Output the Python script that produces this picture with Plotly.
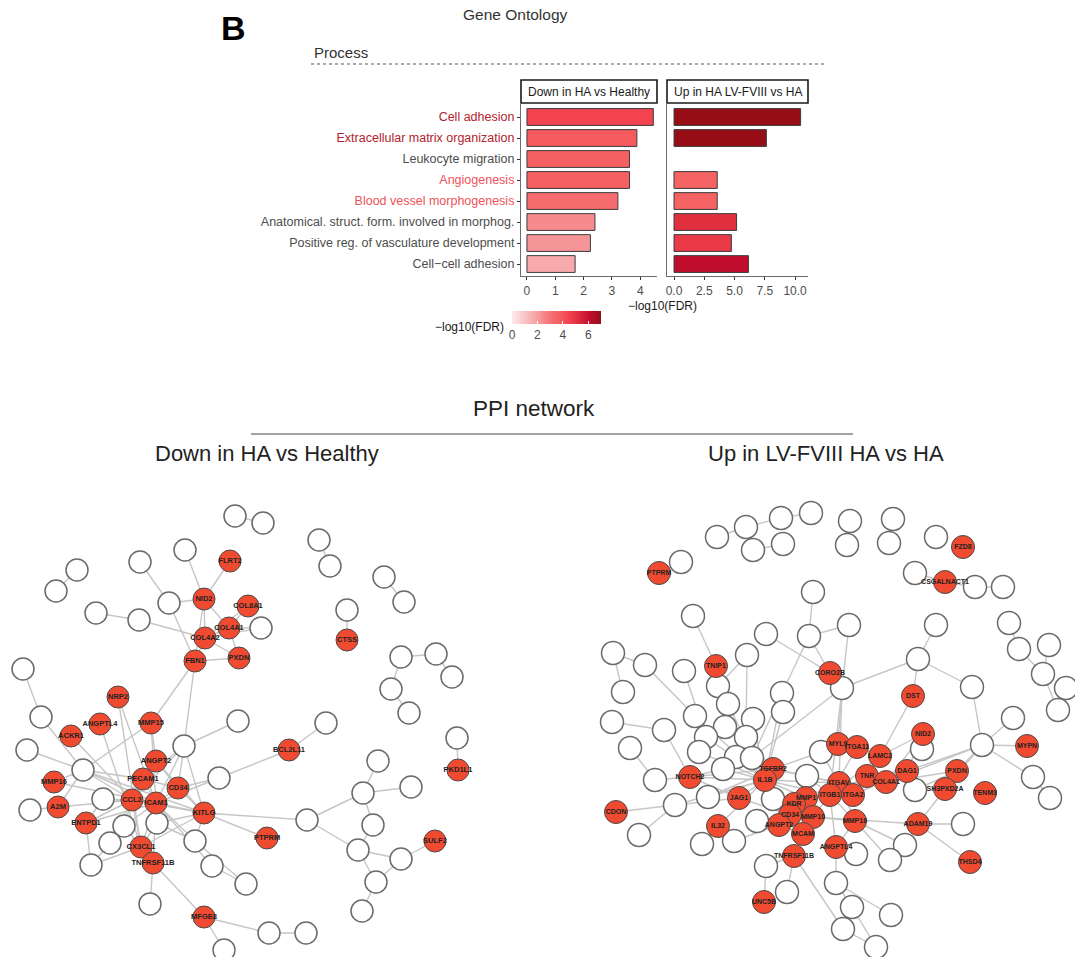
import plotly.graph_objects as go

W, H = 1075, 957
FONT = "Liberation Sans, Arial, sans-serif"

# ---------------- Gene Ontology enrichment (-log10 FDR) ----------------
go_terms = [
    "Cell adhesion",
    "Extracellular matrix organization",
    "Leukocyte migration",
    "Angiogenesis",
    "Blood vessel morphogenesis",
    "Anatomical. struct. form. involved in morphog.",
    "Positive reg. of vasculature development",
    "Cell\u2212cell adhesion",
]
term_colors = ["#b3222e", "#b3222e", "#4d4d4d", "#f0525a", "#f0525a",
               "#4d4d4d", "#4d4d4d", "#4d4d4d"]
down_ha_vs_healthy = [4.46, 3.88, 3.62, 3.62, 3.21, 2.40, 2.24, 1.70]
up_lv_vs_ha = [10.46, 7.63, None, 3.57, 3.57, 5.17, 4.74, 6.15]
panel_titles = ["Down in HA vs Healthy", "Up in HA LV-FVIII vs HA"]
left_ticks = [0, 1, 2, 3, 4]
right_ticks = [0, 2.5, 5, 7.5, 10]
right_ticktext = ["0.0", "2.5", "5.0", "7.5", "10.0"]
legend_ticks = [0, 2, 4, 6]

fdr_scale = [
    [0.000, "#fcebec"], [0.243, "#f7a9ab"], [0.320, "#f69598"],
    [0.343, "#f78a8c"], [0.459, "#f66b6d"], [0.517, "#f56163"],
    [0.554, "#f45a5e"], [0.637, "#f2434f"], [0.677, "#ea3a47"],
    [0.739, "#e0303f"], [0.879, "#c00d2e"], [1.000, "#970d16"],
]
FDR_MAX = 7.0

# ---------------- PPI networks: node layout and interactions ----------------
# Unlabelled (non-hit) proteins carry ids starting with "_"
left_node = ["_1", "_2", "_3", "_4", "_5", "_6", "_7", "FLRT2", "_8", "_9", "_10", "_11",
             "NID2", "COL8A1", "_12", "_13", "COL4A1", "_14", "COL4A2", "FBN1", "PXDN",
             "_15", "CTSS", "_16", "_17", "_18", "_19", "_20", "_21", "_22", "NRP2",
             "ANGPTL4", "MMP15", "_23", "_24", "ACKR1", "_25", "_26", "_27", "_28",
             "ANGPT2", "BCL2L11", "_29", "PKD1L1", "MMP16", "PECAM1", "CD34", "_30",
             "_31", "_32", "_33", "CCL2", "ICAM1", "KITLG", "A2M", "_34", "ENTPD1",
             "_35", "_36", "_37", "_38", "PTPRM", "_39", "_40", "CX3CL1", "_41",
             "SULF2", "TNFRSF11B", "_42", "_43", "_44", "_45", "_46", "_47", "_48",
             "MFGE8", "_49", "_50", "_51"]
left_x = [235, 263, 319, 330, 384, 404, 185, 230, 140, 77, 56, 169, 204, 248, 96, 139,
          229, 261, 205, 195, 239, 347, 347, 401, 436, 452, 391, 409, 23, 41, 118, 100,
          151, 238, 326, 71, 457, 27, 184, 83, 156, 289, 378, 458, 54, 143, 178, 219,
          363, 411, 103, 132, 156, 204, 58, 30, 86, 124, 157, 307, 373, 267, 195, 110,
          141, 358, 435, 153, 91, 212, 401, 376, 246, 150, 362, 204, 269, 306, 224]
left_y = [516, 523, 540, 566, 577, 602, 550, 561, 562, 570, 591, 603, 599, 606, 613, 620,
          628, 628, 638, 661, 658, 610, 640, 657, 654, 677, 689, 713, 669, 717, 697, 724,
          723, 721, 723, 736, 738, 750, 746, 770, 761, 750, 761, 770, 782, 779, 788, 778,
          793, 787, 799, 800, 803, 813, 807, 810, 823, 826, 823, 820, 825, 838, 841, 843,
          847, 850, 841, 863, 865, 866, 859, 882, 884, 904, 911, 917, 933, 933, 950]
left_edges = [
    ("_1", "_2"), ("_3", "_4"), ("_5", "_6"), ("_9", "_10"), ("_12", "_13"),
    ("_13", "COL4A2"), ("_8", "_11"), ("_11", "NID2"), ("_11", "FBN1"), ("_7", "NID2"),
    ("FLRT2", "NID2"), ("NID2", "COL4A2"), ("NID2", "COL4A1"), ("NID2", "FBN1"),
    ("COL8A1", "COL4A1"), ("COL8A1", "COL4A2"), ("COL4A1", "_14"), ("COL4A2", "_14"),
    ("COL4A1", "COL4A2"), ("COL4A1", "PXDN"), ("COL4A2", "PXDN"), ("FBN1", "PXDN"),
    ("COL4A2", "FBN1"), ("CTSS", "_15"), ("_16", "_17"), ("_17", "_18"), ("_16", "_19"),
    ("_19", "_20"), ("_21", "_22"), ("FBN1", "MMP15"), ("FBN1", "_27"), ("_23", "_27"),
    ("_22", "_28"), ("_26", "_28"), ("ANGPTL4", "CX3CL1"), ("NRP2", "CX3CL1"),
    ("NRP2", "ICAM1"), ("MMP15", "ICAM1"), ("MMP15", "ANGPT2"), ("_28", "MMP15"),
    ("_27", "CD34"), ("_27", "ICAM1"), ("_27", "KITLG"), ("_27", "PECAM1"), ("_27", "CCL2"),
    ("_28", "MMP16"), ("_28", "A2M"), ("_28", "CCL2"), ("_28", "ICAM1"), ("_28", "PECAM1"),
    ("_28", "KITLG"), ("BCL2L11", "_24"), ("BCL2L11", "_30"), ("_30", "CD34"),
    ("_30", "ICAM1"), ("KITLG", "_37"), ("KITLG", "PTPRM"), ("_37", "_31"), ("_37", "_41"),
    ("_31", "_29"), ("_31", "_32"), ("_31", "_38"), ("_38", "_41"), ("_41", "_44"),
    ("_41", "_45"), ("_44", "SULF2"), ("_44", "_45"), ("_45", "_48"), ("PKD1L1", "_25"),
    ("TNFRSF11B", "MFGE8"), ("TNFRSF11B", "_47"), ("MFGE8", "_49"), ("_49", "_50"),
    ("MFGE8", "_51"), ("_42", "ENTPD1"), ("_42", "CX3CL1"), ("_39", "_46"),
    ("_43", "ICAM1"), ("_43", "_46"), ("CCL2", "ICAM1"), ("CCL2", "PECAM1"),
    ("CCL2", "CX3CL1"), ("ICAM1", "PECAM1"), ("ICAM1", "CD34"), ("ICAM1", "KITLG"),
    ("ICAM1", "CX3CL1"), ("ICAM1", "TNFRSF11B"), ("PECAM1", "CD34"), ("PECAM1", "ANGPT2"),
    ("ANGPT2", "CD34"), ("ANGPT2", "KITLG"), ("CD34", "KITLG"), ("KITLG", "CX3CL1"),
    ("CCL2", "KITLG"), ("_33", "CCL2"), ("_33", "ICAM1"), ("_33", "ENTPD1"),
    ("_35", "CCL2"), ("_35", "ICAM1"), ("_36", "ICAM1"), ("_36", "KITLG"),
    ("_36", "CX3CL1"), ("_35", "CX3CL1"), ("A2M", "CCL2"), ("MMP16", "ICAM1"),
    ("ENTPD1", "CCL2"), ("ENTPD1", "ICAM1"), ("_40", "CCL2"), ("_40", "_42"),
    ("_34", "A2M"), ("_39", "ICAM1"), ("_39", "KITLG"), ("CX3CL1", "TNFRSF11B"),
    ("ACKR1", "CCL2"), ("_36", "_39"),
]

right_node = ["_1", "_2", "_3", "_4", "_5", "_6", "_7", "_8", "_9", "_10", "_11", "FZD8",
              "_12", "PTPRM", "_13", "CSGALNACT1", "_14", "_15", "_16", "_17", "_18",
              "_19", "_20", "_21", "_22", "_23", "_24", "_25", "_26", "_27", "_28", "_29",
              "_30", "DST", "CORO2B", "_31", "_32", "_33", "_34", "TNIP1", "_35", "_36",
              "_37", "_38", "_39", "_40", "_41", "_42", "_43", "_44", "NID2", "_45", "_46",
              "_47", "_48", "_49", "_50", "_51", "_52", "_53", "MYL9", "ITGA11", "LAMC2",
              "_54", "_55", "MYPN", "_56", "NOTCH2", "TGFBR2", "IL1B", "_57", "TNR",
              "COL4A1", "DAG1", "PXDN", "ITGAV", "_58", "SH3PXD2A", "TENM3", "_59", "_60",
              "_61", "_62", "JAG1", "_63", "ITGB1", "ITGA2", "MMP1", "KDR", "CD34",
              "MMP10", "CDON", "MMP16", "ADAM19", "_64", "ANGPT2", "_65", "IL32", "_66",
              "MCAM", "_67", "_68", "_69", "_70", "ANGPTL4", "_71", "TNFRSF11B", "THSD4",
              "_72", "_73", "_74", "UNC5B", "_75", "_76", "_77", "_78"]
right_x = [811, 781, 746, 717, 753, 783, 850, 847, 893, 889, 936, 963, 681, 659, 915, 945,
           975, 1003, 813, 693, 849, 809, 766, 936, 1009, 1019, 1049, 1043, 1066, 1058,
           1013, 918, 972, 913, 830, 842, 613, 645, 684, 716, 747, 623, 718, 782, 728, 783,
           695, 753, 612, 664, 923, 725, 706, 746, 630, 699, 736, 752, 723, 821, 838, 857,
           880, 922, 982, 1027, 655, 690, 773, 765, 807, 867, 886, 907, 957, 839, 1033, 945,
           985, 915, 1050, 675, 708, 739, 773, 830, 853, 806, 794, 790, 813, 616, 855, 918,
           963, 779, 757, 718, 639, 803, 734, 702, 905, 890, 836, 856, 794, 970, 766, 836,
           787, 764, 852, 891, 843, 876]
right_y = [513, 518, 527, 537, 550, 544, 521, 545, 519, 543, 537, 547, 562, 573, 573, 582,
           587, 587, 592, 616, 625, 636, 634, 625, 623, 649, 645, 674, 688, 710, 718, 659,
           687, 696, 673, 688, 653, 665, 671, 666, 655, 692, 686, 693, 704, 712, 716, 719,
           722, 730, 734, 727, 737, 737, 748, 752, 757, 758, 769, 752, 744, 747, 756, 749,
           745, 746, 780, 777, 769, 780, 776, 776, 782, 771, 771, 783, 777, 789, 793, 790,
           798, 805, 797, 798, 799, 795, 795, 798, 804, 815, 817, 812, 821, 824, 824, 825,
           821, 826, 835, 834, 841, 844, 845, 860, 847, 854, 856, 862, 866, 883, 892, 902,
           907, 915, 929, 947]
right_edges = [
    ("_1", "_2"), ("_2", "_3"), ("_3", "_4"), ("_5", "_6"), ("PTPRM", "_12"),
    ("_13", "CSGALNACT1"), ("CSGALNACT1", "_14"), ("_14", "_15"),
    ("_16", "_19"), ("_19", "_18"), ("_19", "CORO2B"), ("_19", "_38"), ("_18", "_31"),
    ("_20", "CORO2B"), ("_21", "_29"), ("_29", "_31"), ("_29", "DST"), ("_29", "_30"),
    ("_30", "_55"), ("_28", "_55"), ("_22", "_23"), ("_24", "_25"), ("_23", "_25"),
    ("_25", "_27"), ("_55", "MYPN"), ("_55", "_58"), ("_58", "_60"), ("_55", "DAG1"),
    ("_55", "COL4A1"), ("_55", "PXDN"), ("_55", "SH3PXD2A"),
    ("_32", "_33"), ("_32", "_36"), ("_33", "_41"), ("_34", "_46"), ("TNIP1", "_17"),
    ("TNIP1", "_45"), ("TNIP1", "_37"), ("_35", "_47"), ("_35", "_37"),
    ("CORO2B", "_31"), ("_31", "ITGAV"), ("_31", "ITGB1"), ("_31", "_51"),
    ("_31", "MYL9"), ("DST", "LAMC2"), ("_38", "_51"), ("_38", "_40"),
    ("_43", "_44"), ("_48", "_56"), ("_44", "NOTCH2"), ("_56", "NOTCH2"),
    ("NOTCH2", "IL1B"), ("NOTCH2", "TGFBR2"), ("CDON", "_61"), ("_66", "_61"),
    ("_61", "JAG1"), ("_61", "IL1B"), ("UNC5B", "_72"), ("TNFRSF11B", "_74"),
    ("TNFRSF11B", "_77"), ("_73", "_75"), ("_73", "_76"), ("_75", "_78"), ("_77", "_78"),
    ("ANGPTL4", "_71"), ("ANGPTL4", "_73"), ("ITGB1", "ANGPTL4"),
    ("MMP16", "_69"), ("MMP16", "_70"), ("ADAM19", "_64"), ("ADAM19", "THSD4"),
    ("ADAM19", "SH3PXD2A"), ("ADAM19", "MMP10"),
    ("NID2", "LAMC2"), ("NID2", "COL4A1"), ("NID2", "_54"), ("NID2", "DAG1"),
    ("DAG1", "COL4A1"), ("DAG1", "TNR"), ("DAG1", "ITGA2"), ("COL4A1", "TNR"),
    ("COL4A1", "ITGB1"), ("COL4A1", "ITGAV"), ("LAMC2", "ITGA11"), ("LAMC2", "ITGB1"),
    ("LAMC2", "ITGA2"), ("MYL9", "ITGA11"), ("ITGA11", "ITGB1"), ("ITGAV", "ITGB1"),
    ("ITGB1", "ITGA2"), ("ITGAV", "_57"), ("TNR", "ITGB1"), ("PXDN", "COL4A1"),
    ("PXDN", "_59"), ("IL1B", "TGFBR2"), ("IL1B", "CD34"), ("IL1B", "KDR"),
    ("IL1B", "MMP1"), ("IL1B", "JAG1"), ("IL1B", "IL32"), ("IL1B", "_63"),
    ("IL1B", "_50"), ("IL1B", "_52"), ("TGFBR2", "_57"), ("TGFBR2", "ITGAV"),
    ("TGFBR2", "_51"), ("JAG1", "NOTCH2"), ("JAG1", "CD34"), ("KDR", "CD34"),
    ("KDR", "MMP1"), ("KDR", "ANGPT2"), ("KDR", "ITGB1"), ("MMP1", "MMP10"),
    ("MMP1", "ITGB1"), ("MMP10", "CD34"), ("MMP10", "MMP16"), ("MMP10", "ITGAV"),
    ("CD34", "MCAM"), ("CD34", "ANGPT2"), ("ANGPT2", "MCAM"), ("ANGPT2", "_65"),
    ("MCAM", "TNFRSF11B"), ("MMP16", "ITGB1"), ("MMP16", "ANGPTL4"), ("ITGAV", "MMP16"),
    ("IL32", "_67"), ("IL32", "_68"), ("_67", "ANGPT2"), ("_62", "IL1B"),
    ("_62", "TGFBR2"), ("_49", "IL1B"), ("_46", "IL1B"), ("_45", "TGFBR2"),
    ("_47", "TGFBR2"), ("_39", "IL1B"), ("_40", "IL1B"), ("_42", "IL1B"),
    ("_41", "IL1B"), ("_37", "_39"), ("_53", "ITGAV"), ("_53", "TGFBR2"),
    ("_57", "ITGB1"), ("_63", "CD34"), ("_52", "NOTCH2"), ("_50", "_51"),
    ("_65", "CD34"), ("IL1B", "ITGB1"), ("IL1B", "ITGAV"), ("_38", "IL1B"),
    ("TNFRSF11B", "_72"),
]

HIT_FILL = "#f04b30"


def px(x):
    return x / W


def py(y):
    return 1 - y / H


fig = go.Figure()

# ---- GO bars ----
rows = list(range(len(go_terms)))
fig.add_trace(go.Bar(
    x=down_ha_vs_healthy, y=rows, orientation="h", width=0.8,
    marker=dict(
        color=down_ha_vs_healthy, colorscale=fdr_scale, cmin=0, cmax=FDR_MAX,
        line=dict(color="#3d3d3d", width=1),
        showscale=True,
        colorbar=dict(
            orientation="h", x=px(512), xanchor="left", xref="paper",
            y=py(311), yanchor="top", yref="paper",
            len=89, lenmode="pixels", thickness=13, thicknessmode="pixels",
            xpad=0, ypad=0, outlinewidth=0,
            tickvals=legend_ticks, ticks="inside", ticklen=3, tickcolor="white",
            tickfont=dict(size=12, color="#4d4d4d", family=FONT),
        ),
    ),
    xaxis="x", yaxis="y", showlegend=False, hoverinfo="skip",
))

r_rows = [r for r, v in zip(rows, up_lv_vs_ha) if v is not None]
r_vals = [v for v in up_lv_vs_ha if v is not None]
fig.add_trace(go.Bar(
    x=r_vals, y=r_rows, orientation="h", width=0.8,
    marker=dict(color=r_vals, colorscale=fdr_scale, cmin=0, cmax=FDR_MAX,
                line=dict(color="#3d3d3d", width=1), showscale=False),
    xaxis="x2", yaxis="y2", showlegend=False, hoverinfo="skip",
))


# ---- networks ----
def add_network(names, xs, ys, edges, size, label_size):
    pos = {n: (x, y) for n, x, y in zip(names, xs, ys)}
    ex, ey = [], []
    for a, b in edges:
        ex += [pos[a][0], pos[b][0], None]
        ey += [pos[a][1], pos[b][1], None]
    fig.add_trace(go.Scatter(
        x=ex, y=ey, mode="lines", line=dict(color="#c6c6c6", width=1.4),
        xaxis="x3", yaxis="y3", showlegend=False, hoverinfo="skip"))
    other = [n for n in names if n.startswith("_")]
    hits = [n for n in names if not n.startswith("_")]
    fig.add_trace(go.Scatter(
        x=[pos[n][0] for n in other], y=[pos[n][1] for n in other], mode="markers",
        marker=dict(size=size, color="white", line=dict(color="#6a6a6a", width=1.5)),
        xaxis="x3", yaxis="y3", showlegend=False, hoverinfo="skip"))
    fig.add_trace(go.Scatter(
        x=[pos[n][0] for n in hits], y=[pos[n][1] for n in hits], mode="markers+text",
        text=hits, textposition="middle center",
        textfont=dict(size=label_size, color="#222222", family=FONT, weight="bold"),
        marker=dict(size=size, color=HIT_FILL, line=dict(color="#4a4a4a", width=1)),
        xaxis="x3", yaxis="y3", showlegend=False, hoverinfo="skip"))


add_network(left_node, left_x, left_y, left_edges, 22, 7.5)
add_network(right_node, right_x, right_y, right_edges, 23, 7)

# ---- axes ----
axis_common = dict(showgrid=False, zeroline=False, showline=True, linecolor="#6b6b6b",
                   linewidth=1.2, ticks="outside", ticklen=3, tickcolor="#333333",
                   tickfont=dict(size=12, color="#4d4d4d", family=FONT))
panel_top, panel_bottom = 104, 276
y_range = [7.57, -0.62]
ticktext = [f"<span style='color:{c}'>{t}</span>" for t, c in zip(go_terms, term_colors)]

fig.update_layout(
    width=W, height=H, margin=dict(l=0, r=0, t=0, b=0),
    paper_bgcolor="white", plot_bgcolor="rgba(0,0,0,0)",
    font=dict(family=FONT, color="#333333"),
    bargap=0.2,
    xaxis=dict(domain=[px(521), px(657)], range=[-0.21, 4.59], tickvals=left_ticks,
               anchor="y", **axis_common),
    yaxis=dict(domain=[py(panel_bottom), py(panel_top)], range=y_range, tickvals=rows,
               ticktext=ticktext, anchor="x",
               **{**axis_common,
                  "tickfont": dict(size=12.5, color="#4d4d4d", family=FONT)}),
    xaxis2=dict(domain=[px(667), px(808)], range=[-0.58, 11.07], tickvals=right_ticks,
                ticktext=right_ticktext, anchor="y2", **axis_common),
    yaxis2=dict(domain=[py(panel_bottom), py(panel_top)], range=y_range, tickvals=rows,
                showticklabels=False, anchor="x2",
                **{**axis_common, "ticks": ""}),
    xaxis3=dict(domain=[0, 1], range=[0, W], visible=False, anchor="y3"),
    yaxis3=dict(domain=[0, py(470)], range=[H, 470], visible=False, anchor="x3"),
)

# ---- decorations ----
shapes = [
    dict(type="rect", xref="paper", yref="paper", x0=px(521), x1=px(657), y0=py(103), y1=py(80),
         line=dict(color="#1a1a1a", width=1.6), fillcolor="white"),
    dict(type="rect", xref="paper", yref="paper", x0=px(667), x1=px(808), y0=py(103), y1=py(80),
         line=dict(color="#1a1a1a", width=1.6), fillcolor="white"),
    dict(type="line", xref="paper", yref="paper", x0=px(311), x1=px(824), y0=py(64), y1=py(64),
         line=dict(color="#555555", width=1, dash="dot")),
    dict(type="line", xref="paper", yref="paper", x0=px(251), x1=px(853), y0=py(434), y1=py(434),
         line=dict(color="#444444", width=1)),
]
fig.update_layout(shapes=shapes)


def label(text, x, y, size, color="#333333", xanchor="center", bold=False):
    fig.add_annotation(text=f"<b>{text}</b>" if bold else text, x=px(x), y=py(y),
                       xref="paper", yref="paper", xanchor=xanchor, yanchor="middle",
                       showarrow=False, font=dict(size=size, color=color, family=FONT))


label("B", 233, 28, 34, "#000000", bold=True)
label("Gene Ontology", 515, 15, 15.5, "#333333")
label("Process", 312, 52, 15, "#333333", xanchor="left")
label(panel_titles[0], 589, 91.5, 12, "#1a1a1a")
label(panel_titles[1], 737.5, 91.5, 12, "#1a1a1a")
label("\u2212log10(FDR)", 662, 306, 12, "#1a1a1a")
label("\u2212log10(FDR)", 506, 327, 12, "#1a1a1a", xanchor="right")
label("PPI network", 534, 408, 22.5, "#222222")
label("Down in HA vs Healthy", 267, 453, 22, "#222222")
label("Up in LV-FVIII HA vs HA", 826, 453, 22, "#222222")

fig.write_html("out.html")
